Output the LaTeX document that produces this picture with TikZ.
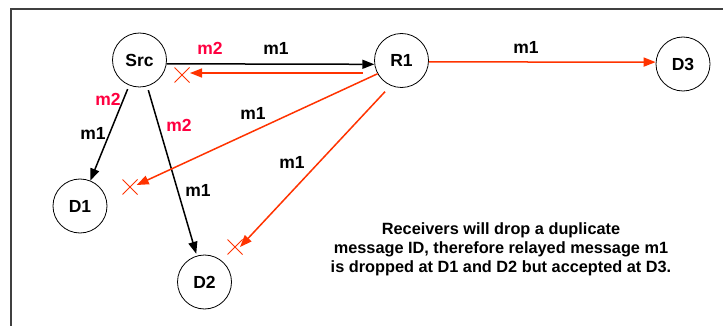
\documentclass[tikz,border=0pt]{standalone}
\usepackage{fontspec}
\setmainfont{Liberation Sans}
\usetikzlibrary{arrows.meta}
\definecolor{arr}{HTML}{FF3300}
\definecolor{lab}{HTML}{FF0040}
\definecolor{framecol}{HTML}{404040}
\tikzset{
  nd/.style={circle,draw=black,line width=0.8pt,minimum size=54pt,inner sep=0pt,
    font=\fontsize{17.5}{20}\selectfont\bfseries},
  blk/.style={draw=black,line width=1.5pt,-{Triangle[length=12pt,width=9pt]}},
  relay/.style={draw=arr,line width=1.5pt,-{Triangle[length=12pt,width=9pt]}},
  lbl/.style={font=\fontsize{17.5}{20}\selectfont\bfseries,inner sep=0pt},
  lblr/.style={lbl,text=lab},
  xm/.style={draw=arr,line width=1pt},
  note/.style={font=\fontsize{16.3}{19}\selectfont\bfseries,align=center,inner sep=0pt},
}
\begin{document}
\begin{tikzpicture}[x=1pt,y=-1pt]
\useasboundingbox (0,0) rectangle (723,326);
\fill[white] (0,0) rectangle (723,326);
% frame
\draw[framecol,line width=1.2pt] (11,326) -- (11,9) -- (723,9);
% nodes
\node[nd] (Src) at (139.5,60) {Src};
\node[nd] (R1) at (401.5,60.5) {R1};
\node[nd] (D3) at (683,64) {D3};
\node[nd] (D1) at (80,206) {D1};
\node[nd] (D2) at (204.5,282) {D2};
% free ends
\coordinate (rs0) at (363,73);
\coordinate (rs1) at (190,73);
\coordinate (rd1) at (136.7,185);
\coordinate (rd20) at (385,91.7);
\coordinate (rd2) at (240,247);
% black connectors
\draw[blk] (Src.-8) -- (R1.188);
\draw[blk,shorten <=4pt] (Src) -- (D1);
\draw[blk,shorten <=4pt,shorten >=2pt] (Src) -- (D2);
% red connectors
\draw[relay] (rs0) -- (rs1);
\draw[relay] (R1.-3) -- (D3.176);
\draw[relay] (R1.209) -- (rd1);
\draw[relay] (rd20) -- (rd2);
% X marks
\foreach \c in {(182,75),(130,187),(235,247)}{
  \draw[xm] \c ++(-7.5,-7.5) -- ++(15,15);
  \draw[xm] \c ++(-7.5,7.5) -- ++(15,-15);
}
% labels
\node[lblr] (l1) at (210,48) {m2};
\node[lbl] (l2) at (276,48) {m1};
\node[lbl] (l3) at (526,47) {m1};
\node[lblr] (l4) at (108,99) {m2};
\node[lbl] (l5) at (93,133) {m1};
\node[lblr] (l6) at (179,125) {m2};
\node[lbl] (l7) at (253,113) {m1};
\node[lbl] (l8) at (292,162) {m1};
\node[lbl] (l9) at (198,190) {m1};
\node[note] (txt) at (501,249) {Receivers will drop a duplicate\\message ID, therefore relayed message m1\\is dropped at D1 and D2 but accepted at D3.};
\end{tikzpicture}
\end{document}
